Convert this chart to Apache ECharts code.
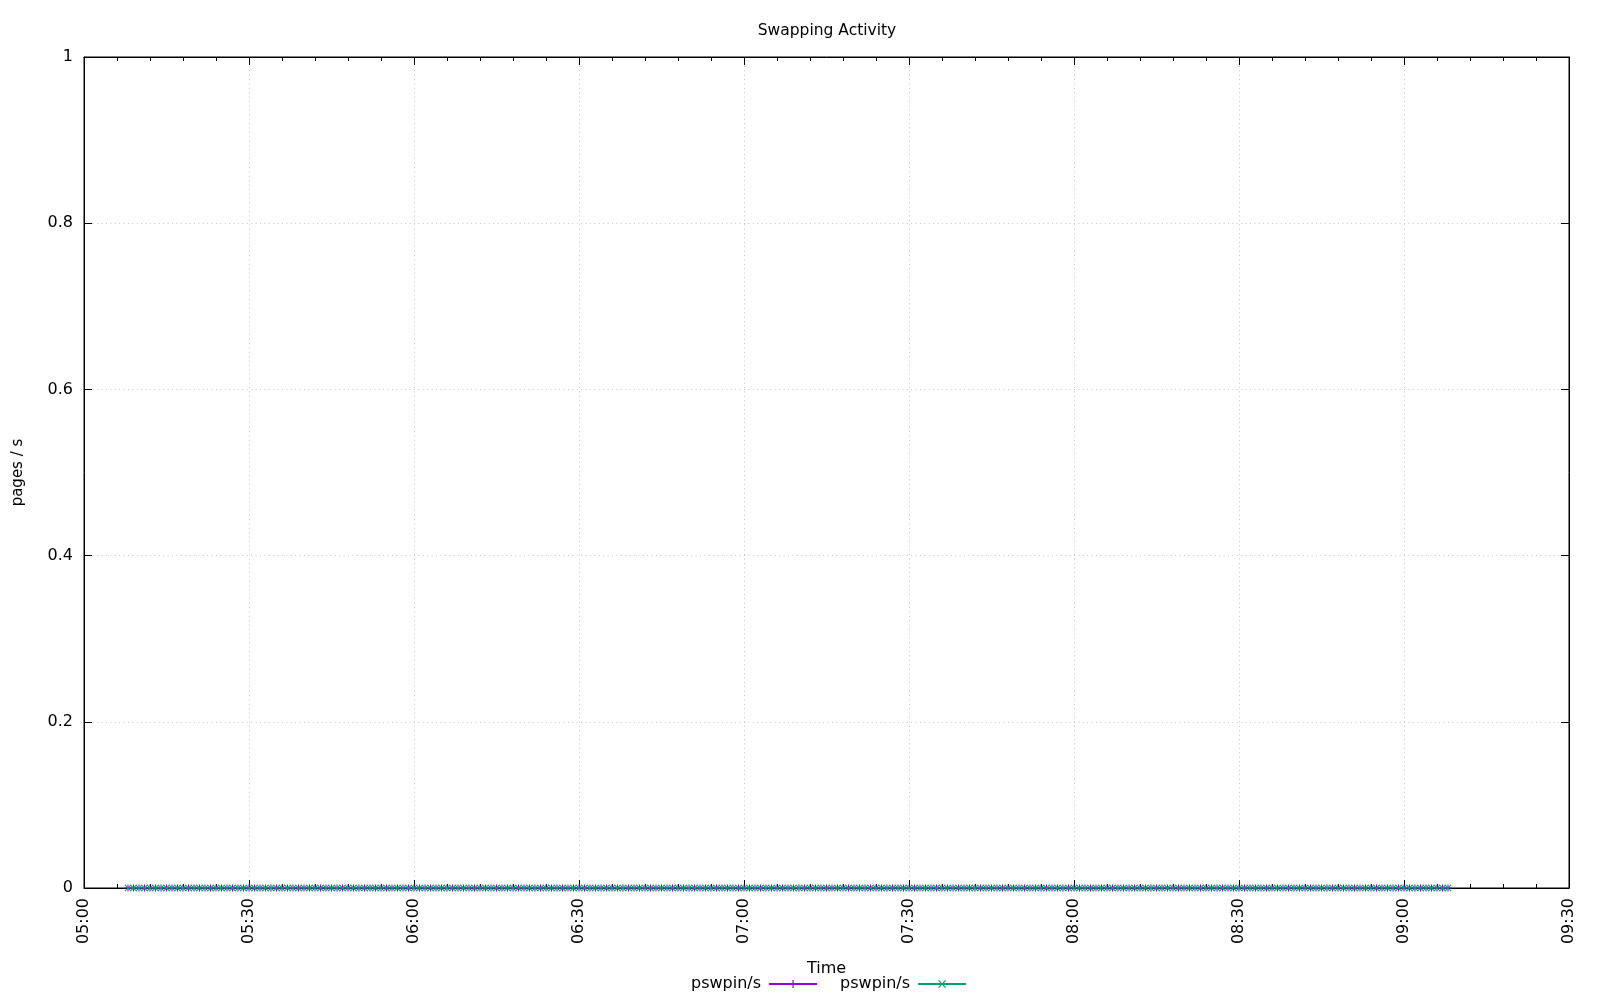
<!DOCTYPE html>
<html>
<head>
<meta charset="utf-8">
<script src="https://cdn.jsdelivr.net/npm/echarts@6/dist/echarts.min.js"></script>
<style>
html,body{margin:0;padding:0;background:#fff;}
#chart{width:1600px;height:1000px;}
</style>
</head>
<body>
<div id="chart"></div>
<script>
// ---- data ----
const times = [
"05:08","05:09","05:10","05:11","05:12","05:13","05:14","05:15","05:16","05:17","05:18","05:19",
"05:20","05:21","05:22","05:23","05:24","05:25","05:26","05:27","05:28","05:29",
"05:30","05:31","05:32","05:33","05:34","05:35","05:36","05:37","05:38","05:39",
"05:40","05:41","05:42","05:43","05:44","05:45","05:46","05:47","05:48","05:49",
"05:50","05:51","05:52","05:53","05:54","05:55","05:56","05:57","05:58","05:59",
"06:00","06:01","06:02","06:03","06:04","06:05","06:06","06:07","06:08","06:09",
"06:10","06:11","06:12","06:13","06:14","06:15","06:16","06:17","06:18","06:19",
"06:20","06:21","06:22","06:23","06:24","06:25","06:26","06:27","06:28","06:29",
"06:30","06:31","06:32","06:33","06:34","06:35","06:36","06:37","06:38","06:39",
"06:40","06:41","06:42","06:43","06:44","06:45","06:46","06:47","06:48","06:49",
"06:50","06:51","06:52","06:53","06:54","06:55","06:56","06:57","06:58","06:59",
"07:00","07:01","07:02","07:03","07:04","07:05","07:06","07:07","07:08","07:09",
"07:10","07:11","07:12","07:13","07:14","07:15","07:16","07:17","07:18","07:19",
"07:20","07:21","07:22","07:23","07:24","07:25","07:26","07:27","07:28","07:29",
"07:30","07:31","07:32","07:33","07:34","07:35","07:36","07:37","07:38","07:39",
"07:40","07:41","07:42","07:43","07:44","07:45","07:46","07:47","07:48","07:49",
"07:50","07:51","07:52","07:53","07:54","07:55","07:56","07:57","07:58","07:59",
"08:00","08:01","08:02","08:03","08:04","08:05","08:06","08:07","08:08","08:09",
"08:10","08:11","08:12","08:13","08:14","08:15","08:16","08:17","08:18","08:19",
"08:20","08:21","08:22","08:23","08:24","08:25","08:26","08:27","08:28","08:29",
"08:30","08:31","08:32","08:33","08:34","08:35","08:36","08:37","08:38","08:39",
"08:40","08:41","08:42","08:43","08:44","08:45","08:46","08:47","08:48","08:49",
"08:50","08:51","08:52","08:53","08:54","08:55","08:56","08:57","08:58","08:59",
"09:00","09:01","09:02","09:03","09:04","09:05","09:06","09:07","09:08"
];

// pswpin/s (purple, +)
const pswpinA = [
0,0,0,0,0,0,0,0,0,0,0,0,0,0,0,0,0,0,0,0,
0,0,0,0,0,0,0,0,0,0,0,0,0,0,0,0,0,0,0,0,
0,0,0,0,0,0,0,0,0,0,0,0,0,0,0,0,0,0,0,0,
0,0,0,0,0,0,0,0,0,0,0,0,0,0,0,0,0,0,0,0,
0,0,0,0,0,0,0,0,0,0,0,0,0,0,0,0,0,0,0,0,
0,0,0,0,0,0,0,0,0,0,0,0,0,0,0,0,0,0,0,0,
0,0,0,0,0,0,0,0,0,0,0,0,0,0,0,0,0,0,0,0,
0,0,0,0,0,0,0,0,0,0,0,0,0,0,0,0,0,0,0,0,
0,0,0,0,0,0,0,0,0,0,0,0,0,0,0,0,0,0,0,0,
0,0,0,0,0,0,0,0,0,0,0,0,0,0,0,0,0,0,0,0,
0,0,0,0,0,0,0,0,0,0,0,0,0,0,0,0,0,0,0,0,
0,0,0,0,0,0,0,0,0,0,0,0,0,0,0,0,0,0,0,0,
0
];

// pswpin/s (green, x)
const pswpinB = [
0,0,0,0,0,0,0,0,0,0,0,0,0,0,0,0,0,0,0,0,
0,0,0,0,0,0,0,0,0,0,0,0,0,0,0,0,0,0,0,0,
0,0,0,0,0,0,0,0,0,0,0,0,0,0,0,0,0,0,0,0,
0,0,0,0,0,0,0,0,0,0,0,0,0,0,0,0,0,0,0,0,
0,0,0,0,0,0,0,0,0,0,0,0,0,0,0,0,0,0,0,0,
0,0,0,0,0,0,0,0,0,0,0,0,0,0,0,0,0,0,0,0,
0,0,0,0,0,0,0,0,0,0,0,0,0,0,0,0,0,0,0,0,
0,0,0,0,0,0,0,0,0,0,0,0,0,0,0,0,0,0,0,0,
0,0,0,0,0,0,0,0,0,0,0,0,0,0,0,0,0,0,0,0,
0,0,0,0,0,0,0,0,0,0,0,0,0,0,0,0,0,0,0,0,
0,0,0,0,0,0,0,0,0,0,0,0,0,0,0,0,0,0,0,0,
0,0,0,0,0,0,0,0,0,0,0,0,0,0,0,0,0,0,0,0,
0
];

const seriesNames = ["pswpin/s", "pswpin/s"];
const xRange = ["05:00", "09:30"];
const yTickLabels = ["0", "0.2", "0.4", "0.6", "0.8", "1"];

// ---- helpers ----
function toMs(s) { const p = s.split(":"); return (parseInt(p[0], 10) * 60 + parseInt(p[1], 10)) * 60000; }
function fmt(ms) {
  const m = Math.round(ms / 60000);
  const h = Math.floor(m / 60), mm = m % 60;
  return (h < 10 ? "0" : "") + h + ":" + (mm < 10 ? "0" : "") + mm;
}
const FONT = "DejaVu Sans";
const PLUS = "path://M4.25,0H5.75V10H4.25Z M0,4.25H10V5.75H0Z";
const CROSS = "path://M1.06,0L10,8.94L8.94,10L0,1.06Z M8.94,0L10,1.06L1.06,10L0,8.94Z";

const xMin = toMs(xRange[0]), xMax = toMs(xRange[1]);
const xInt = 30 * 60000;
const GRID_LINE = { color: "#c4c4c4", type: [1, 3.4], width: 1 };

const commonX = {
  type: "value", min: xMin, max: xMax, interval: xInt,
  axisLine: { show: true, onZero: false, lineStyle: { color: "#000", width: 1 } },
  axisTick: { show: true, inside: true, length: 8, lineStyle: { color: "#000", width: 1 } },
  minorTick: { show: true, splitNumber: 5, length: 4, lineStyle: { color: "#000", width: 1 } }
};
const commonY = {
  type: "value", min: 0, max: 1, interval: 0.2,
  axisLine: { show: true, onZero: false, lineStyle: { color: "#000", width: 1 } },
  axisTick: { show: true, inside: true, length: 8, lineStyle: { color: "#000", width: 1 } }
};

const chart = echarts.init(document.getElementById("chart"), null, { renderer: "canvas" });
chart.setOption({
  animation: false,
  backgroundColor: "#fff",
  textStyle: { fontFamily: FONT, color: "#000" },
  title: {
    text: "Swapping Activity",
    left: 822, top: 18, textAlign: "center",
    textStyle: { fontFamily: FONT, fontSize: 15.5, fontWeight: "normal", color: "#000" }
  },
  grid: { left: 84, right: 31, top: 57, bottom: 112, show: true, borderColor: "#000", borderWidth: 1, backgroundColor: "transparent" },
  legend: {
    left: 686, top: 971, align: "right",
    itemWidth: 48, itemHeight: 10, itemGap: 22,
    textStyle: { fontFamily: FONT, fontSize: 16, color: "#000", padding: [0, 3, 0, 0] },
    formatter: function (n) { return n.replace("#2", ""); },
    data: [seriesNames[0], seriesNames[1] + "#2"]
  },
  xAxis: [
    Object.assign({}, commonX, {
      position: "bottom",
      name: "Time", nameLocation: "middle", nameGap: 73,
      nameTextStyle: { fontFamily: FONT, fontSize: 16, color: "#000" },
      axisLabel: { show: true, rotate: 90, margin: 10, fontFamily: FONT, fontSize: 16, color: "#000", formatter: fmt },
      splitLine: { show: true, lineStyle: GRID_LINE }
    }),
    Object.assign({}, commonX, {
      position: "top",
      axisLabel: { show: false },
      splitLine: { show: false }
    })
  ],
  yAxis: [
    Object.assign({}, commonY, {
      position: "left",
      name: "pages / s", nameLocation: "middle", nameGap: 58,
      nameTextStyle: { fontFamily: FONT, fontSize: 15, color: "#000" },
      axisLabel: { show: true, margin: 11, fontFamily: FONT, fontSize: 16, color: "#000",
        formatter: function (v) { return yTickLabels[Math.round(v / 0.2)]; } },
      splitLine: { show: true, lineStyle: GRID_LINE }
    }),
    Object.assign({}, commonY, {
      position: "right",
      axisLabel: { show: false },
      splitLine: { show: false }
    })
  ],
  series: [
    {
      name: seriesNames[0], type: "line", xAxisIndex: 0, yAxisIndex: 0,
      data: times.map(function (t, i) { return [toMs(t), pswpinA[i]]; }),
      showSymbol: true, symbol: PLUS, symbolSize: 7,
      itemStyle: { color: "#9400d3" },
      lineStyle: { color: "#9400d3", width: 1 },
      z: 3
    },
    {
      name: seriesNames[1] + "#2", type: "line", xAxisIndex: 0, yAxisIndex: 0,
      data: times.map(function (t, i) { return [toMs(t), pswpinB[i]]; }),
      showSymbol: true, symbol: CROSS, symbolSize: 7,
      itemStyle: { color: "#009e73" },
      lineStyle: { color: "#009e73", width: 1 },
      z: 4
    }
  ]
});
</script>
</body>
</html>
